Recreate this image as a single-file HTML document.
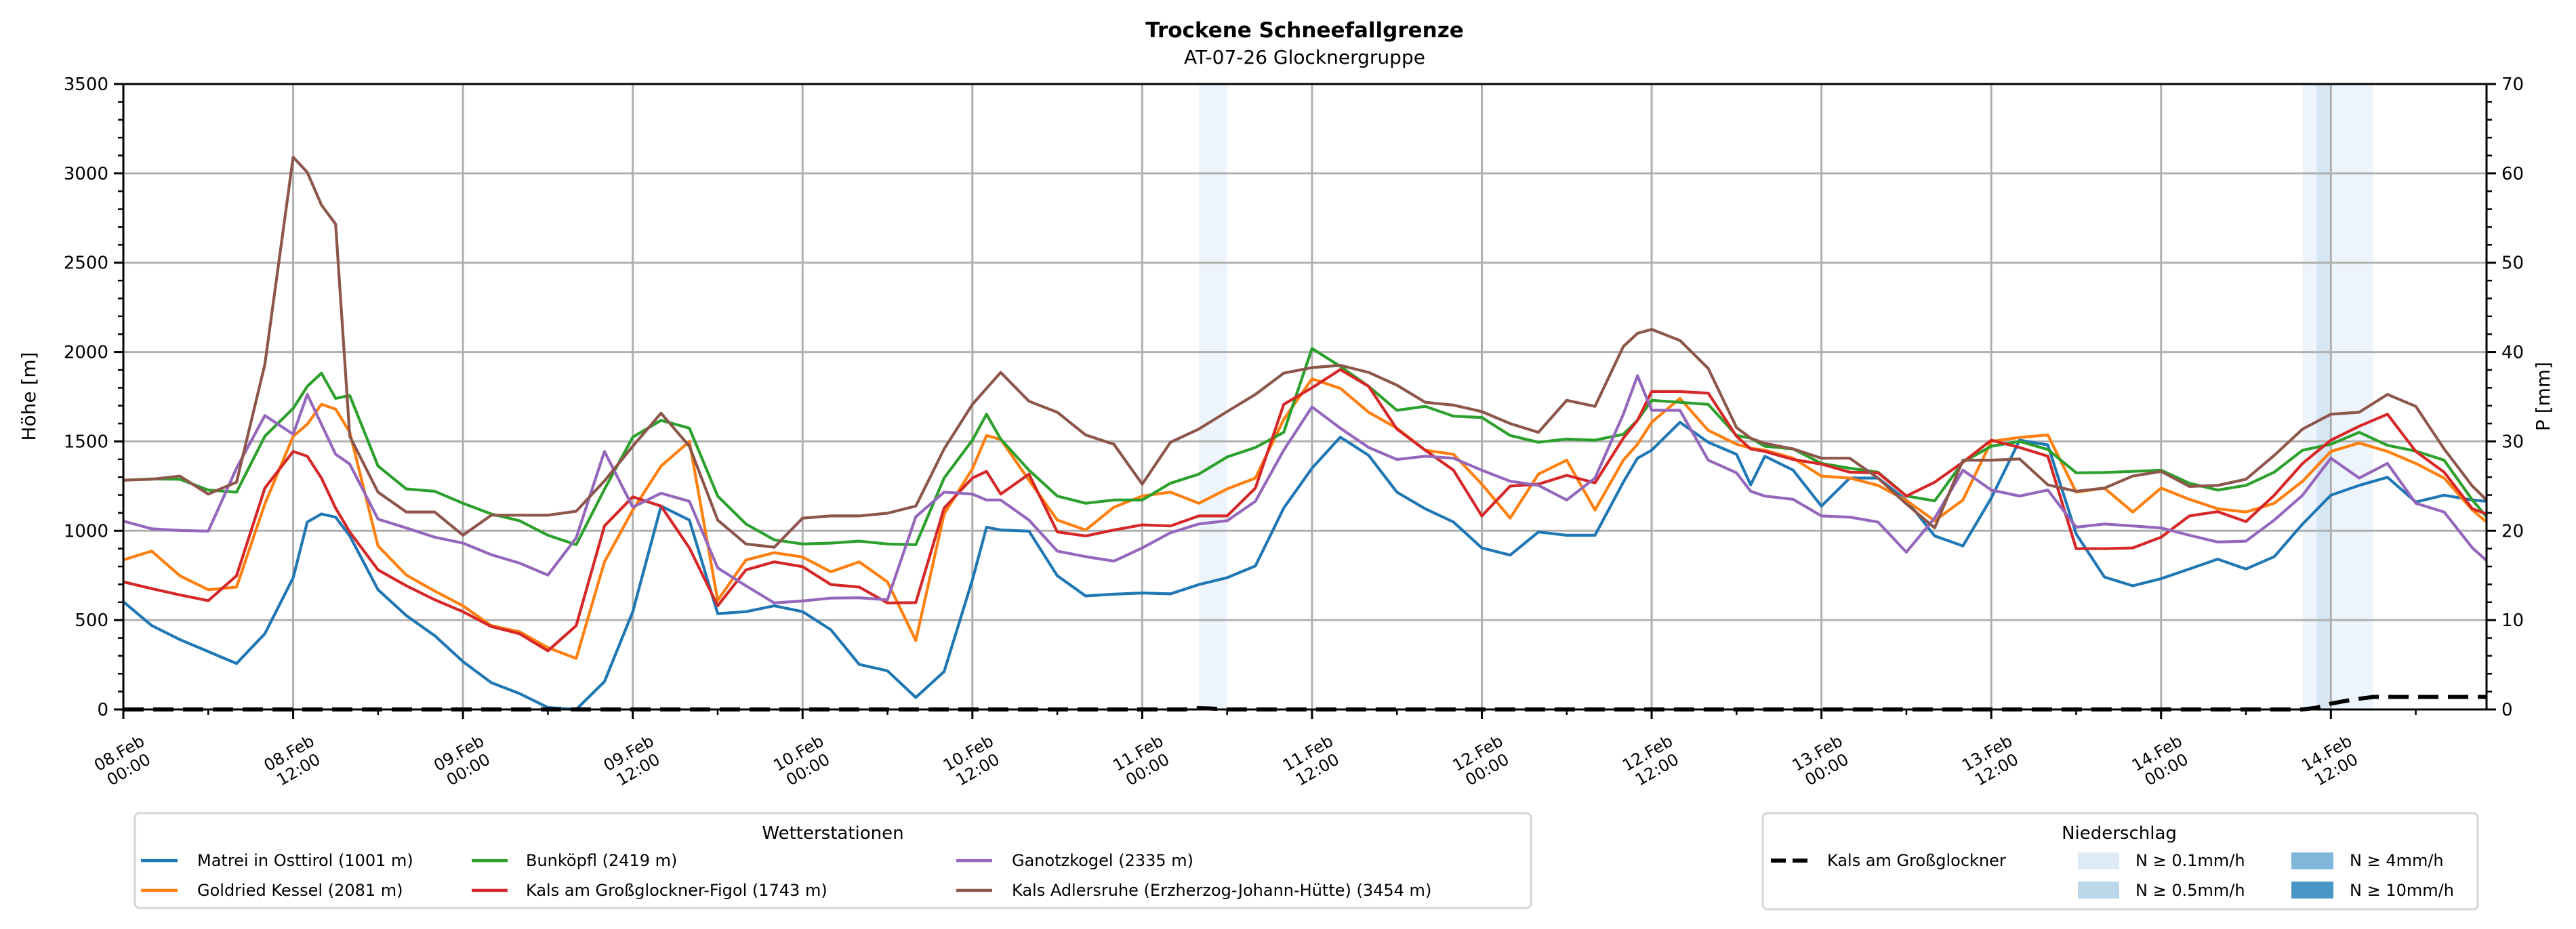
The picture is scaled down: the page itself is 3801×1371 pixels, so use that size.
<!DOCTYPE html>
<html><head><meta charset="utf-8"><style>
html,body{margin:0;padding:0;background:#fff;}
svg{display:block;font-family:"DejaVu Sans","Liberation Sans",sans-serif;}
</style></head><body>
<svg id="chart" xmlns="http://www.w3.org/2000/svg" width="3801" height="1371" viewBox="0 0 3801 1371">
<rect x="0" y="0" width="3801" height="1371" fill="#fff"/>
<text x="1925" y="55" text-anchor="middle" font-size="31" font-weight="bold">Trockene Schneefallgrenze</text>
<text x="1925" y="94" text-anchor="middle" font-size="28">AT-07-26 Glocknergruppe</text>
<g id="shade"></g>
<g id="grid"></g>
<g id="series"></g>
<g id="axes"></g>
<text transform="translate(52,585) rotate(-90)" text-anchor="middle" font-size="28">Höhe [m]</text>
<text transform="translate(3762,585) rotate(-90)" text-anchor="middle" font-size="28">P [mm]</text>

<g>
<rect x="199" y="1200" width="2060" height="140" rx="7" fill="#fff" stroke="#d6d6d6" stroke-width="3"/>
<text x="1229" y="1238" text-anchor="middle" font-size="26">Wetterstationen</text>
<g font-size="24">
<line x1="208" y1="1270" x2="262" y2="1270" stroke="#1f77b4" stroke-width="4.5"/><text x="291" y="1278">Matrei in Osttirol (1001 m)</text>
<line x1="208" y1="1314" x2="262" y2="1314" stroke="#ff7f0e" stroke-width="4.5"/><text x="291" y="1322">Goldried Kessel (2081 m)</text>
<line x1="696" y1="1270" x2="749" y2="1270" stroke="#2ca02c" stroke-width="4.5"/><text x="776" y="1278">Bunköpfl (2419 m)</text>
<line x1="696" y1="1314" x2="749" y2="1314" stroke="#d62728" stroke-width="4.5"/><text x="776" y="1322">Kals am Großglockner-Figol (1743 m)</text>
<line x1="1411" y1="1270" x2="1464" y2="1270" stroke="#9467bd" stroke-width="4.5"/><text x="1493" y="1278">Ganotzkogel (2335 m)</text>
<line x1="1411" y1="1314" x2="1464" y2="1314" stroke="#8c564b" stroke-width="4.5"/><text x="1493" y="1322">Kals Adlersruhe (Erzherzog-Johann-Hütte) (3454 m)</text>
</g></g>

<g>
<rect x="2601" y="1200" width="1055" height="142" rx="7" fill="#fff" stroke="#d6d6d6" stroke-width="3"/>
<text x="3127" y="1238" text-anchor="middle" font-size="26">Niederschlag</text>
<g font-size="24">
<line x1="2613" y1="1270" x2="2674" y2="1270" stroke="#000" stroke-width="6" stroke-dasharray="22,10"/><text x="2696" y="1278">Kals am Großglockner</text>
<rect x="3066" y="1258" width="61" height="25" fill="#deebf7"/><text x="3151" y="1278">N ≥ 0.1mm/h</text>
<rect x="3066" y="1301" width="61" height="25" fill="#bcd6ea"/><text x="3151" y="1322">N ≥ 0.5mm/h</text>
<rect x="3381" y="1258" width="62" height="25" fill="#7fb6d9"/><text x="3467" y="1278">N ≥ 4mm/h</text>
<rect x="3381" y="1301" width="62" height="25" fill="#4a96c7"/><text x="3467" y="1322">N ≥ 10mm/h</text>
</g></g>

<script>
// ---- data ----
const hours = [0,2,4,6,8,10,12,14,16,18,20,22,24,26,28,30,32,34,36,38,40,42,44,46,48,50,52,54,56,58,60,62,64,66,68,70,72,74,76,78,80,82,84,86,88,90,92,94,96,98,100,102,104,106,108,110,112,114,116,118,120,122,124,126,128,130,132,134,136,138,140,142,144,146,148,150,152,154,156,158,160,162,164,166,167];
const extraHours = [13,15,61,107,115];
const matrei = [603,470,391,324,257,424,737,1094,971,670,525,413,268,150,89,11,0,156,547,1138,1060,536,547,580,547,446,252,216,67,212,725,1004,998,748,635,645,652,647,699,737,803,1127,1350,1524,1422,1216,1123,1049,904,864,993,975,975,1272,1451,1607,1495,1428,1417,1339,1138,1295,1295,1172,971,915,1183,1507,1480,982,741,692,732,786,841,786,855,1038,1199,1254,1299,1161,1199,1172,1165];
const matreiExtra = [1049,1076,1020,1406,1257];
const goldried = [837,886,748,670,685,1150,1529,1708,1551,915,752,663,580,469,435,346,286,826,1116,1362,1500,610,837,877,853,770,826,714,386,1094,1346,1511,1283,1060,1004,1132,1194,1216,1154,1234,1295,1623,1850,1797,1663,1574,1451,1428,1261,1071,1317,1395,1116,1395,1607,1741,1562,1484,1451,1406,1306,1295,1254,1170,1056,1172,1500,1522,1536,1216,1239,1105,1239,1176,1123,1105,1154,1277,1444,1491,1444,1377,1295,1116,1049];
const goldriedExtra = [1596,1681,1533,1484,1462];
const bunkoepfl = [1283,1290,1288,1228,1216,1529,1685,1882,1757,1362,1234,1221,1154,1094,1056,975,922,1232,1524,1618,1574,1194,1038,949,926,931,942,926,922,1295,1507,1513,1339,1194,1154,1172,1172,1266,1317,1413,1466,1551,2020,1920,1808,1674,1696,1641,1634,1533,1495,1513,1507,1540,1730,1719,1707,1533,1473,1458,1377,1350,1328,1195,1167,1384,1473,1500,1455,1324,1326,1332,1339,1266,1228,1254,1328,1451,1484,1551,1478,1446,1395,1172,1078];
const bunkoepflExtra = [1808,1741,1652,1618,1518];
const kalsFigol = [714,676,641,609,748,1239,1444,1295,993,781,692,614,547,464,424,328,469,1027,1190,1138,904,580,781,826,799,699,685,596,598,1127,1295,1205,1317,993,971,1004,1033,1027,1083,1083,1239,1707,1800,1902,1808,1569,1451,1339,1083,1250,1261,1310,1268,1518,1779,1779,1770,1529,1444,1399,1373,1328,1324,1194,1272,1384,1507,1466,1417,900,900,904,964,1083,1107,1051,1199,1377,1507,1585,1652,1444,1328,1123,1094];
const kalsFigolExtra = [1417,1127,1332,1618,1458];
const ganotzkogel = [1054,1011,1002,998,1350,1645,1540,1596,1373,1065,1016,964,931,866,819,752,960,1444,1132,1210,1165,792,692,596,607,623,625,614,1078,1216,1205,1172,1060,886,855,830,904,989,1038,1056,1165,1451,1693,1574,1466,1399,1417,1406,1339,1277,1254,1172,1295,1652,1674,1674,1395,1324,1194,1176,1083,1076,1049,880,1071,1339,1228,1194,1228,1020,1038,1027,1016,975,937,942,1060,1199,1406,1295,1377,1154,1105,904,833];
const ganotzkogelExtra = [1763,1428,1172,1868,1221];
const adlersruhe = [1283,1288,1306,1205,1272,1931,3091,2823,1529,1216,1105,1105,975,1087,1087,1087,1109,1279,1473,1658,1473,1060,926,908,1071,1083,1083,1098,1138,1458,1707,1886,1725,1663,1536,1484,1261,1495,1569,1667,1763,1882,1913,1926,1886,1815,1719,1703,1667,1600,1551,1730,1696,2031,2127,2065,1908,1578,1489,1458,1406,1406,1295,1150,1016,1395,1395,1402,1257,1221,1239,1306,1332,1248,1254,1288,1422,1569,1652,1663,1763,1696,1458,1250,1172];
const adlersruheExtra = [3006,2716,1797,2105,1518];
const precipHours = [0,75,76,77,78,154,155,156,157,158,159,167];
const precipValues = [0,0,0.15,0.1,0,0,0.2,0.65,0.95,1.2,1.4,1.4];
const shadeLightStart = [76,154];
const shadeLightEnd = [78,159];
const shadeDarkStart = [155];
const shadeDarkEnd = [156];
const yTicks = [0,500,1000,1500,2000,2500,3000,3500];
const y2Ticks = [0,10,20,30,40,50,60,70];
const xTickHours = [0,12,24,36,48,60,72,84,96,108,120,132,144,156];
const xTickDays = ["08.Feb","08.Feb","09.Feb","09.Feb","10.Feb","10.Feb","11.Feb","11.Feb","12.Feb","12.Feb","13.Feb","13.Feb","14.Feb","14.Feb"];
const xTickTimes = ["00:00","12:00","00:00","12:00","00:00","12:00","00:00","12:00","00:00","12:00","00:00","12:00","00:00","12:00"];

// ---- scales ----
const L=182,R=3669,T=124,B=1047,TMAX=167,YMAX=3500,PMAX=70;
const NS="http://www.w3.org/2000/svg";
function xs(t){return L+t/TMAX*(R-L);}
function ys(v){return B-v/YMAX*(B-T);}
function yp(p){return B-p/PMAX*(B-T);}
function mk(tag,attrs,parent){const e=document.createElementNS(NS,tag);for(const k in attrs)e.setAttribute(k,attrs[k]);parent.appendChild(e);return e;}
const gShade=document.getElementById('shade'),gGrid=document.getElementById('grid'),gSer=document.getElementById('series'),gAx=document.getElementById('axes');

shadeLightStart.forEach((s,i)=>{
  const r=mk('rect',{x:xs(s),y:T,width:xs(shadeLightEnd[i])-xs(s),height:B-T,fill:'#eef4fb'},gShade);
  
  
});
shadeDarkStart.forEach((s,i)=>{
  const r=mk('rect',{x:xs(s),y:T,width:xs(shadeDarkEnd[i])-xs(s),height:B-T,fill:'#d7e6f3'},gShade);
  
  
});

yTicks.forEach(v=>{mk('line',{x1:L,x2:R,y1:ys(v),y2:ys(v),stroke:'#b0b0b0','stroke-width':3},gGrid);});
xTickHours.forEach(h=>{mk('line',{x1:xs(h),x2:xs(h),y1:T,y2:B,stroke:'#b0b0b0','stroke-width':3},gGrid);});

function merged(base,extra){
  const pts=hours.map((h,i)=>[h,base[i]]);
  extraHours.forEach((h,i)=>pts.push([h,extra[i]]));
  pts.sort((a,b)=>a[0]-b[0]);
  return pts;
}
const series=[[matrei,matreiExtra,'#1f77b4','line-matrei'],[goldried,goldriedExtra,'#ff7f0e','line-goldried'],[bunkoepfl,bunkoepflExtra,'#2ca02c','line-bunkoepfl'],[kalsFigol,kalsFigolExtra,'#d62728','line-kals-figol'],[ganotzkogel,ganotzkogelExtra,'#9467bd','line-ganotzkogel'],[adlersruhe,adlersruheExtra,'#8c564b','line-adlersruhe']];
series.forEach(s=>{
  const pts=merged(s[0],s[1]);
  const d=pts.map((p,i)=>(i?'L':'M')+xs(p[0]).toFixed(1)+','+ys(Math.max(0,p[1])).toFixed(1)).join(' ');
  const p=mk('path',{d:d,fill:'none',stroke:s[2],'stroke-width':4.2,'stroke-linejoin':'round'},gSer);
  
  
});
const pd=precipHours.map((h,i)=>(i?'L':'M')+xs(h).toFixed(1)+','+yp(precipValues[i]).toFixed(1)).join(' ');
const pl=mk('path',{d:pd,fill:'none',stroke:'#000','stroke-width':6,'stroke-dasharray':'30,14'},gSer);



// axes frame
mk('rect',{x:L,y:T,width:R-L,height:B-T,fill:'none',stroke:'#000','stroke-width':3},gAx);
yTicks.forEach(v=>{
  mk('line',{x1:L-14,x2:L,y1:ys(v),y2:ys(v),stroke:'#000','stroke-width':3},gAx);
  const t=mk('text',{x:L-22,y:ys(v)+9,'text-anchor':'end','font-size':26},gAx);t.textContent=v;
  
  
});
for(let v=0;v<=YMAX;v+=100){if(v%500)mk('line',{x1:L-8,x2:L,y1:ys(v),y2:ys(v),stroke:'#000','stroke-width':2.5},gAx);}
y2Ticks.forEach(v=>{
  mk('line',{x1:R,x2:R+14,y1:yp(v),y2:yp(v),stroke:'#000','stroke-width':3},gAx);
  const t=mk('text',{x:R+22,y:yp(v)+9,'text-anchor':'start','font-size':26},gAx);t.textContent=v;
  
  
});
for(let v=0;v<=PMAX;v+=2){if(v%10)mk('line',{x1:R,x2:R+8,y1:yp(v),y2:yp(v),stroke:'#000','stroke-width':2.5},gAx);}
xTickHours.forEach((h,i)=>{
  mk('line',{x1:xs(h),x2:xs(h),y1:B,y2:B+14,stroke:'#000','stroke-width':3},gAx);
  mk('line',{x1:xs(h+6),x2:xs(h+6),y1:B,y2:B+8,stroke:'#000','stroke-width':2.5},gAx);
  const t=mk('text',{transform:'translate('+xs(h)+',1122) rotate(-30)','text-anchor':'middle','font-size':24},gAx);
  
  
  const a=mk('tspan',{x:0,y:-4},t);a.textContent=xTickDays[i];
  const b=mk('tspan',{x:0,y:24},t);b.textContent=xTickTimes[i];
});
</script>
</svg>
</body></html>
